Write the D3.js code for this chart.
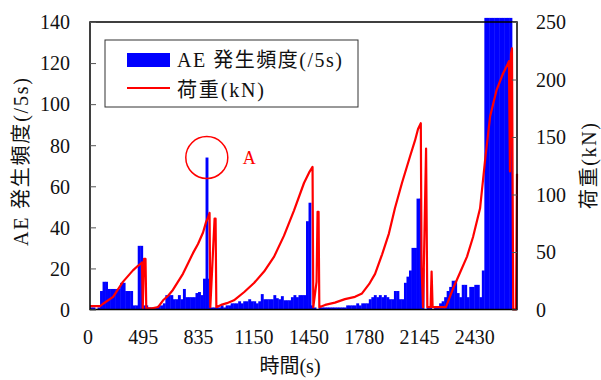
<!DOCTYPE html>
<html>
<head>
<meta charset="utf-8">
<script src="https://cdn.jsdelivr.net/npm/d3@7"></script>
<style>
  body { margin: 0; background: #fff; }
  svg text { font-family: "Liberation Serif", "Times New Roman", "Noto Sans CJK JP", serif; fill: #111; }
</style>
</head>
<body>
<div id="chart"></div>
<script>
// AE hits per 5 s bin (one value per category on the x axis)
const aeCounts = [
  1, 1, 0, 1, 9, 13.5, 13.5, 10, 10, 10,
  10, 10, 13, 13, 9, 9, 9, 2, 2, 31,
  31, 2, 2, 1, 1, 1, 1, 2, 2, 3,
  7, 7, 7, 5, 5, 7, 5, 10, 6, 6,
  6, 6, 8, 8.5, 7, 15, 74, 15, 1, 1,
  1, 1, 2, 1, 2, 2, 3, 3, 3, 4,
  3, 4, 4, 5, 4, 4, 3, 4, 7.5, 5,
  5, 5, 5, 7, 5.5, 5, 6.5, 4.5, 4.5, 4.5,
  6, 7, 6, 7, 7, 7, 43, 52, 2, 1,
  0, 1, 1, 1, 1, 1, 1, 1, 1, 1,
  1, 1, 2, 2, 2, 2, 3, 2, 3, 3,
  3, 5, 6, 7, 6, 7, 6, 7, 6, 5,
  5, 9, 9, 5, 5, 13, 16, 19, 30, 30,
  54, 54, 20, 0, 1, 1, 0, 1, 1, 3,
  4, 6, 9, 11, 14, 14, 8, 6, 12, 12,
  6, 11, 11, 12, 12, 6, 19, 142, 142, 142,
  142, 142, 142, 142, 142, 142, 142, 142, 0, 0
];

// load curve: position on the category axis and load in kN
const loadPos = [
  0, 4.0, 5.2, 9.2, 13.1, 17.1, 19.1, 20.3, 20.7, 21.0, 21.5, 22.1, 22.4, 24.7, 26.7,
  27.1, 29.1, 31.1, 33.0, 35.0, 37.0, 39.0, 41.0, 43.0, 45.0, 46.2, 47.0, 47.6, 47.9,
  49.6, 50.0, 50.3, 52.2, 54.5, 57.3, 61.3, 65.3, 69.3, 73.3, 77.2, 81.2, 85.2, 87.2,
  88.6, 88.9, 90.2, 90.6, 91.0, 91.3, 93.6, 97.5, 101.5, 105.5, 108.3, 111.1, 113.5,
  116.3, 119.0, 121.4, 124.2, 127.4, 129.4, 130.6, 131.7, 132.0, 132.6, 133.8, 134.3,
  135.6, 136.0, 136.4, 141.7, 144.5, 147.3, 150.1, 152.5, 155.3, 157.3, 159.3, 161.9,
  164.4, 166.4, 166.8, 167.2, 167.6, 168.0, 168.5, 169.6, 170.0
];
const loadKN = [
  3, 3, 5, 11, 24, 34, 38, 40, 41, 1, 44, 44, 1, 1, 2,
  2, 8, 12, 17, 24, 31, 40, 49, 57, 67, 76, 80, 84, 2,
  79, 79, 2, 4, 5.5, 8, 15, 23, 33, 46, 64, 86, 110, 119,
  124, 2, 24, 85, 85, 2, 4, 6, 9, 11, 14, 22, 31,
  48, 66, 88, 110, 133, 147, 157, 162, 37, 2, 140, 2,
  2, 33, 2, 2, 18, 32, 46, 63, 88, 130, 168, 191,
  205, 214, 216, 120, 222, 227, 0, 0, 118
];

const xTickPos = [0, 22, 44, 66, 88, 110, 132, 154];
const xTickLabels = ["0", "495", "835", "1150", "1450", "1780", "2145", "2430"];
const leftTicks = [0, 20, 40, 60, 80, 100, 120, 140];
const rightTicks = [0, 50, 100, 150, 200, 250];

const W = 601, H = 380;
const margin = { top: 22, right: 84, bottom: 70.5, left: 90 };
const width = W - margin.left - margin.right,
  height = H - margin.top - margin.bottom;

const svg = d3.select("#chart").append("svg")
  .attr("width", W).attr("height", H);
const g = svg.append("g")
  .attr("transform", "translate(" + margin.left + "," + margin.top + ")");

const x = d3.scaleLinear().domain([0, aeCounts.length]).range([0, width]);
const yL = d3.scaleLinear().domain([0, 140]).range([height, 0]);
const yR = d3.scaleLinear().domain([0, 250]).range([height, 0]);

// AE bars
g.append("g").selectAll("rect")
  .data(aeCounts)
  .join("rect")
  .attr("x", (d, i) => x(i))
  .attr("width", (d, i) => x(i + 1) - x(i) + 0.4)
  .attr("y", d => yL(d))
  .attr("height", d => yL(0) - yL(d))
  .attr("fill", "#0000ff");

// load line
const line = d3.line()
  .x((d, i) => x(loadPos[i]))
  .y(d => yR(d));
g.append("path")
  .datum(loadKN)
  .attr("d", line)
  .attr("fill", "none")
  .attr("stroke", "#ff0000")
  .attr("stroke-width", 2.2)
  .attr("stroke-linejoin", "round");

// frame
g.append("rect")
  .attr("width", width).attr("height", height)
  .attr("fill", "none").attr("stroke", "#000").attr("stroke-width", 1.5);

// left axis (ticks inward)
const left = g.append("g").call(d3.axisLeft(yL).tickValues(leftTicks).tickSize(-6).tickPadding(20));
left.select(".domain").remove();
left.selectAll("line").attr("stroke", "#555");
left.selectAll("text").style("font-size", "20px").attr("dy", "0.34em");

// right axis (ticks inward)
const right = g.append("g").attr("transform", "translate(" + width + ",0)")
  .call(d3.axisRight(yR).tickValues(rightTicks).tickSize(-5).tickPadding(19));
right.select(".domain").remove();
right.selectAll("line").attr("stroke", "#555");
right.selectAll("text").style("font-size", "20px").attr("dy", "0.34em");

// category labels under the plot
g.append("g").selectAll("text")
  .data(xTickPos)
  .join("text")
  .attr("x", d => x(d) - 2)
  .attr("y", height + 34.5)
  .attr("text-anchor", "middle")
  .style("font-size", "20px")
  .text((d, i) => xTickLabels[i]);

// axis titles
svg.append("text")
  .attr("x", 290).attr("y", 373)
  .attr("text-anchor", "middle")
  .style("font-size", "20px")
  .text("時間(s)");

svg.append("text")
  .attr("transform", "translate(28,162) rotate(-90)")
  .attr("text-anchor", "middle")
  .attr("textLength", 168)
  .attr("lengthAdjust", "spacing")
  .style("font-size", "20px")
  .text("AE 発生頻度(/5s)");

svg.append("text")
  .attr("transform", "translate(596,166) rotate(-90)")
  .attr("text-anchor", "middle")
  .attr("textLength", 86)
  .attr("lengthAdjust", "spacing")
  .style("font-size", "20px")
  .text("荷重(kN)");

// annotation A around the peak AE bin
const peakIdx = aeCounts.indexOf(d3.max(aeCounts.slice(0, 100)));
g.append("circle")
  .attr("cx", x(peakIdx + 0.5))
  .attr("cy", yL(aeCounts[peakIdx]))
  .attr("r", 21)
  .attr("fill", "none")
  .attr("stroke", "#ff0000")
  .attr("stroke-width", 1.5);
g.append("text")
  .attr("x", x(peakIdx + 0.5) + 36)
  .attr("y", yL(aeCounts[peakIdx]) + 6)
  .style("font-size", "18px")
  .style("fill", "#ff0000")
  .text("A");

// legend
const lg = svg.append("g");
lg.append("rect")
  .attr("x", 105).attr("y", 40).attr("width", 253).attr("height", 67)
  .attr("fill", "#fff").attr("stroke", "#333").attr("stroke-width", 1);
lg.append("rect")
  .attr("x", 127).attr("y", 53).attr("width", 43).attr("height", 14)
  .attr("fill", "#0000ff");
lg.append("line")
  .attr("x1", 127).attr("x2", 170).attr("y1", 88).attr("y2", 88)
  .attr("stroke", "#ff0000").attr("stroke-width", 2);
lg.append("text").attr("x", 177).attr("y", 67)
  .attr("textLength", 165).attr("lengthAdjust", "spacing")
  .style("font-size", "20px").text("AE 発生頻度(/5s)");
lg.append("text").attr("x", 177).attr("y", 97)
  .attr("textLength", 87).attr("lengthAdjust", "spacing")
  .style("font-size", "20px").text("荷重(kN)");
</script>
</body>
</html>
